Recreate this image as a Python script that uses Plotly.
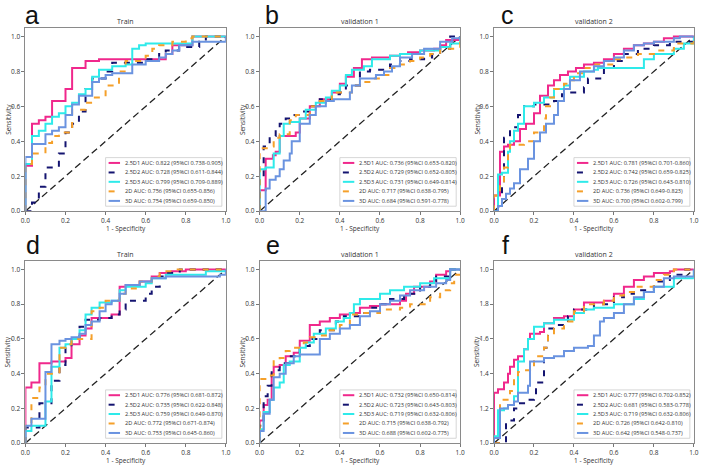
import plotly.graph_objects as go

# ---------------- data ----------------
PANEL_LETTERS = ["a", "b", "c", "d", "e", "f"]
PANEL_TITLES = ["Train", "validation 1", "validation 2", "Train", "validation 1", "validation 2"]
MODELS = ["2.5D1", "2.5D2", "2.5D3", "2D", "3D"]
X_TICKS = [0.0, 0.2, 0.4, 0.6, 0.8, 1.0]
X_TICK_TEXT = ["0.0", "0.2", "0.4", "0.6", "0.8", "1.0"]
Y_TICK_TEXT = ["0.0", "0.2", "0.4", "0.6", "0.8", "1.0"]
Y_TICK_TEXT_F = ["1.0", "1.2", "1.4", "1.6", "1.8", "1.0"]
DIAG = [0.0, 1.0]

AUC_A = ["0.822 (95%CI 0.738-0.905)", "0.728 (95%CI 0.611-0.844)", "0.799 (95%CI 0.709-0.889)", "0.756 (95%CI 0.655-0.856)", "0.754 (95%CI 0.659-0.850)"]
AUC_B = ["0.736 (95%CI 0.653-0.820)", "0.729 (95%CI 0.652-0.805)", "0.731 (95%CI 0.649-0.814)", "0.717 (95%CI 0.638-0.795)", "0.684 (95%CI 0.591-0.778)"]
AUC_C = ["0.781 (95%CI 0.701-0.860)", "0.742 (95%CI 0.659-0.825)", "0.726 (95%CI 0.643-0.810)", "0.736 (95%CI 0.649-0.823)", "0.700 (95%CI 0.602-0.799)"]
AUC_D = ["0.776 (95%CI 0.681-0.872)", "0.735 (95%CI 0.622-0.848)", "0.759 (95%CI 0.649-0.870)", "0.772 (95%CI 0.671-0.874)", "0.753 (95%CI 0.645-0.860)"]
AUC_E = ["0.732 (95%CI 0.650-0.814)", "0.723 (95%CI 0.643-0.803)", "0.719 (95%CI 0.632-0.806)", "0.715 (95%CI 0.638-0.792)", "0.688 (95%CI 0.602-0.775)"]
AUC_F = ["0.777 (95%CI 0.702-0.852)", "0.681 (95%CI 0.583-0.778)", "0.719 (95%CI 0.632-0.806)", "0.726 (95%CI 0.642-0.810)", "0.642 (95%CI 0.548-0.737)"]

# ROC step points (fpr where the curve rises, tpr it rises to)
A1_X = [0, 0, 0.033, 0.067, 0.1, 0.133, 0.2, 0.233, 0.3, 0.367, 0.7, 0.733, 0.833, 1.0]
A1_Y = [0, 0.26, 0.5, 0.52, 0.54, 0.63, 0.70, 0.82, 0.86, 0.87, 0.9, 0.95, 1.0, 1.0]
A2_X = [0, 0.033, 0.067, 0.1, 0.167, 0.2, 0.233, 0.267, 0.3, 0.333, 0.4, 0.433, 0.6, 0.667, 0.7, 0.767, 0.867, 0.9, 1.0]
A2_Y = [0, 0.05, 0.14, 0.25, 0.33, 0.45, 0.50, 0.57, 0.70, 0.76, 0.80, 0.85, 0.87, 0.90, 0.92, 0.94, 0.97, 1.0, 1.0]
A3_X = [0, 0, 0.033, 0.067, 0.1, 0.133, 0.167, 0.2, 0.233, 0.267, 0.3, 0.333, 0.367, 0.433, 0.5, 0.533, 0.567, 0.6, 0.833, 1.0]
A3_Y = [0, 0.27, 0.43, 0.46, 0.50, 0.54, 0.56, 0.60, 0.62, 0.67, 0.70, 0.77, 0.81, 0.83, 0.84, 0.93, 0.95, 0.96, 1.0, 1.0]
A4_X = [0, 0, 0.033, 0.1, 0.133, 0.167, 0.233, 0.3, 0.333, 0.4, 0.467, 0.5, 0.6, 0.633, 0.667, 0.733, 0.8, 0.833, 1.0]
A4_Y = [0, 0.27, 0.33, 0.39, 0.43, 0.45, 0.58, 0.62, 0.65, 0.72, 0.80, 0.86, 0.89, 0.93, 0.95, 0.97, 0.99, 1.0, 1.0]
A5_X = [0, 0, 0.033, 0.1, 0.133, 0.167, 0.2, 0.233, 0.267, 0.333, 0.367, 0.4, 0.433, 0.533, 0.6, 0.667, 0.7, 0.733, 0.767, 0.833, 1.0]
A5_Y = [0, 0.31, 0.385, 0.44, 0.46, 0.48, 0.55, 0.61, 0.66, 0.74, 0.76, 0.78, 0.79, 0.84, 0.86, 0.88, 0.90, 0.92, 0.95, 0.97, 1.0]

B1_X = [0, 0, 0.03, 0.066, 0.08, 0.1, 0.18, 0.2, 0.25, 0.3, 0.36, 0.4, 0.43, 0.47, 0.51, 0.56, 0.65, 0.7, 0.74, 0.8, 0.87, 0.9, 0.93, 1.0]
B1_Y = [0, 0.12, 0.30, 0.32, 0.34, 0.43, 0.45, 0.53, 0.60, 0.64, 0.68, 0.73, 0.77, 0.82, 0.87, 0.88, 0.89, 0.90, 0.91, 0.92, 0.93, 0.95, 0.98, 1.0]
B2_X = [0, 0, 0.02, 0.05, 0.08, 0.1, 0.13, 0.16, 0.2, 0.25, 0.3, 0.36, 0.4, 0.43, 0.5, 0.55, 0.65, 0.7, 0.75, 0.82, 0.86, 0.9, 0.95, 1.0]
B2_Y = [0, 0.2, 0.37, 0.43, 0.48, 0.50, 0.53, 0.55, 0.57, 0.60, 0.64, 0.67, 0.68, 0.72, 0.80, 0.81, 0.84, 0.86, 0.87, 0.88, 0.90, 0.93, 1.0, 1.0]
B3_X = [0, 0, 0.03, 0.07, 0.1, 0.12, 0.15, 0.2, 0.23, 0.28, 0.33, 0.36, 0.4, 0.43, 0.46, 0.52, 0.56, 0.65, 0.7, 0.8, 0.9, 0.95, 1.0]
B3_Y = [0, 0.24, 0.25, 0.33, 0.43, 0.50, 0.51, 0.53, 0.58, 0.62, 0.65, 0.69, 0.72, 0.78, 0.81, 0.83, 0.87, 0.89, 0.90, 0.92, 0.94, 0.96, 1.0]
B4_X = [0, 0, 0.05, 0.07, 0.1, 0.15, 0.18, 0.25, 0.3, 0.36, 0.46, 0.5, 0.56, 0.6, 0.65, 0.7, 0.75, 0.8, 0.85, 0.9, 1.0, 1.0]
B4_Y = [0, 0.36, 0.37, 0.42, 0.44, 0.52, 0.55, 0.60, 0.63, 0.68, 0.72, 0.74, 0.76, 0.78, 0.82, 0.84, 0.86, 0.88, 0.90, 0.93, 0.97, 1.0]
B5_X = [0, 0.03, 0.05, 0.08, 0.1, 0.12, 0.15, 0.16, 0.2, 0.25, 0.28, 0.33, 0.37, 0.45, 0.46, 0.5, 0.58, 0.62, 0.66, 0.7, 0.76, 0.82, 0.9, 0.96, 1.0]
B5_Y = [0, 0.13, 0.18, 0.20, 0.24, 0.29, 0.33, 0.40, 0.50, 0.55, 0.60, 0.63, 0.64, 0.68, 0.72, 0.76, 0.78, 0.80, 0.83, 0.88, 0.90, 0.93, 0.97, 0.99, 1.0]

C1_X = [0, 0, 0.03, 0.05, 0.07, 0.1, 0.13, 0.16, 0.2, 0.23, 0.27, 0.3, 0.33, 0.37, 0.41, 0.45, 0.5, 0.55, 0.6, 0.65, 0.7, 0.75, 0.8, 0.85, 0.9, 1.0]
C1_Y = [0, 0.09, 0.34, 0.37, 0.38, 0.40, 0.47, 0.50, 0.56, 0.66, 0.72, 0.75, 0.78, 0.80, 0.82, 0.84, 0.85, 0.87, 0.90, 0.93, 0.95, 0.96, 0.97, 0.99, 1.0, 1.0]
C2_X = [0, 0.02, 0.04, 0.05, 0.08, 0.12, 0.15, 0.2, 0.3, 0.34, 0.37, 0.45, 0.47, 0.55, 0.6, 0.65, 0.72, 0.8, 0.88, 1.0]
C2_Y = [0, 0.09, 0.15, 0.42, 0.48, 0.55, 0.60, 0.61, 0.63, 0.67, 0.68, 0.71, 0.76, 0.82, 0.86, 0.90, 0.93, 0.95, 0.97, 1.0]
C3_X = [0, 0.02, 0.04, 0.07, 0.08, 0.1, 0.12, 0.15, 0.2, 0.25, 0.3, 0.35, 0.38, 0.45, 0.5, 0.52, 0.72, 0.75, 0.8, 0.9, 0.95, 1.0]
C3_Y = [0, 0.21, 0.22, 0.34, 0.40, 0.46, 0.50, 0.60, 0.62, 0.65, 0.70, 0.72, 0.77, 0.80, 0.81, 0.82, 0.82, 0.87, 0.90, 0.93, 0.96, 1.0]
C4_X = [0, 0, 0.03, 0.05, 0.07, 0.08, 0.15, 0.2, 0.25, 0.26, 0.28, 0.3, 0.35, 0.38, 0.4, 0.45, 0.5, 0.6, 0.65, 0.72, 0.8, 0.9, 1.0]
C4_Y = [0, 0.09, 0.16, 0.25, 0.33, 0.38, 0.40, 0.45, 0.53, 0.60, 0.65, 0.70, 0.73, 0.75, 0.79, 0.82, 0.84, 0.87, 0.88, 0.90, 0.92, 0.96, 1.0]
C5_X = [0, 0.02, 0.04, 0.06, 0.08, 0.1, 0.13, 0.17, 0.2, 0.23, 0.26, 0.3, 0.32, 0.35, 0.38, 0.43, 0.5, 0.55, 0.6, 0.65, 0.7, 0.75, 0.8, 0.9, 0.93, 1.0]
C5_Y = [0, 0.03, 0.07, 0.10, 0.13, 0.16, 0.24, 0.30, 0.40, 0.45, 0.50, 0.55, 0.63, 0.70, 0.75, 0.80, 0.83, 0.86, 0.88, 0.92, 0.95, 0.96, 0.97, 0.99, 1.0, 1.0]

D1_X = [0, 0, 0.03, 0.07, 0.13, 0.2, 0.23, 0.27, 0.3, 0.33, 0.43, 0.47, 0.5, 0.57, 0.63, 0.67, 0.73, 0.8, 1.0]
D1_Y = [0, 0.32, 0.35, 0.46, 0.47, 0.49, 0.57, 0.62, 0.66, 0.72, 0.74, 0.90, 0.91, 0.93, 0.96, 0.98, 0.99, 1.0, 1.0]
D2_X = [0, 0, 0.07, 0.13, 0.17, 0.2, 0.23, 0.27, 0.3, 0.37, 0.43, 0.47, 0.5, 0.6, 0.63, 0.67, 0.7, 0.77, 1.0]
D2_Y = [0, 0.09, 0.23, 0.36, 0.45, 0.55, 0.60, 0.67, 0.71, 0.72, 0.74, 0.77, 0.82, 0.86, 0.90, 0.96, 0.98, 1.0, 1.0]
D3_X = [0, 0, 0.03, 0.1, 0.13, 0.17, 0.2, 0.23, 0.27, 0.3, 0.33, 0.37, 0.43, 0.47, 0.5, 0.6, 0.63, 0.7, 0.9, 1.0]
D3_Y = [0, 0.07, 0.10, 0.24, 0.44, 0.55, 0.57, 0.60, 0.65, 0.74, 0.78, 0.81, 0.82, 0.88, 0.90, 0.92, 0.95, 0.97, 0.99, 1.0]
D4_X = [0, 0, 0.03, 0.07, 0.1, 0.17, 0.2, 0.23, 0.33, 0.37, 0.4, 0.47, 0.5, 0.57, 0.63, 0.67, 0.73, 1.0]
D4_Y = [0, 0.10, 0.26, 0.32, 0.40, 0.55, 0.57, 0.60, 0.76, 0.78, 0.82, 0.86, 0.89, 0.93, 0.96, 0.99, 1.0, 1.0]
D5_X = [0, 0, 0.03, 0.1, 0.13, 0.17, 0.2, 0.23, 0.27, 0.3, 0.33, 0.37, 0.4, 0.43, 0.47, 0.5, 0.57, 0.63, 0.7, 0.97, 1.0]
D5_Y = [0, 0.10, 0.14, 0.41, 0.57, 0.59, 0.60, 0.61, 0.63, 0.68, 0.70, 0.76, 0.80, 0.82, 0.86, 0.91, 0.93, 0.95, 0.96, 0.97, 1.0]

E1_X = [0, 0, 0.02, 0.04, 0.06, 0.07, 0.1, 0.13, 0.17, 0.2, 0.25, 0.3, 0.35, 0.4, 0.45, 0.5, 0.55, 0.6, 0.7, 0.73, 0.77, 0.85, 0.88, 0.93, 0.95, 1.0]
E1_Y = [0, 0.13, 0.22, 0.25, 0.40, 0.44, 0.45, 0.50, 0.52, 0.59, 0.68, 0.70, 0.72, 0.74, 0.75, 0.78, 0.79, 0.80, 0.82, 0.86, 0.90, 0.93, 0.97, 0.99, 1.0, 1.0]
E2_X = [0, 0, 0.02, 0.04, 0.06, 0.1, 0.15, 0.2, 0.25, 0.3, 0.38, 0.42, 0.5, 0.55, 0.6, 0.65, 0.72, 0.8, 0.85, 0.88, 0.95, 1.0]
E2_Y = [0, 0.10, 0.27, 0.33, 0.42, 0.46, 0.50, 0.56, 0.60, 0.65, 0.70, 0.73, 0.75, 0.78, 0.80, 0.83, 0.86, 0.90, 0.93, 0.96, 1.0, 1.0]
E3_X = [0, 0, 0.02, 0.05, 0.07, 0.1, 0.12, 0.15, 0.2, 0.23, 0.27, 0.33, 0.38, 0.42, 0.45, 0.47, 0.5, 0.6, 0.65, 0.72, 0.8, 0.87, 0.95, 1.0]
E3_Y = [0, 0.08, 0.18, 0.25, 0.32, 0.35, 0.45, 0.47, 0.55, 0.58, 0.63, 0.66, 0.70, 0.72, 0.75, 0.80, 0.83, 0.86, 0.88, 0.90, 0.92, 0.95, 1.0, 1.0]
E4_X = [0, 0, 0.05, 0.07, 0.1, 0.13, 0.15, 0.22, 0.25, 0.3, 0.35, 0.4, 0.45, 0.5, 0.6, 0.7, 0.75, 0.85, 0.9, 0.95, 0.97, 1.0]
E4_Y = [0, 0.37, 0.39, 0.48, 0.49, 0.53, 0.55, 0.58, 0.61, 0.62, 0.65, 0.68, 0.74, 0.75, 0.77, 0.78, 0.80, 0.84, 0.88, 0.92, 0.97, 1.0]
E5_X = [0, 0, 0.02, 0.05, 0.07, 0.1, 0.13, 0.17, 0.2, 0.3, 0.35, 0.4, 0.45, 0.5, 0.55, 0.6, 0.65, 0.7, 0.75, 0.82, 0.88, 0.93, 0.95, 1.0]
E5_Y = [0, 0.07, 0.17, 0.25, 0.38, 0.40, 0.46, 0.50, 0.51, 0.60, 0.63, 0.66, 0.68, 0.73, 0.76, 0.80, 0.82, 0.85, 0.88, 0.90, 0.92, 0.94, 1.0, 1.0]

F1_X = [0, 0, 0.02, 0.05, 0.07, 0.08, 0.1, 0.12, 0.15, 0.17, 0.18, 0.23, 0.25, 0.3, 0.35, 0.4, 0.45, 0.55, 0.6, 0.65, 0.7, 0.75, 0.8, 0.88, 0.9, 1.0]
F1_Y = [0, 0.29, 0.31, 0.35, 0.40, 0.44, 0.48, 0.50, 0.54, 0.60, 0.63, 0.64, 0.69, 0.72, 0.73, 0.77, 0.81, 0.82, 0.86, 0.90, 0.94, 0.96, 0.98, 0.99, 1.0, 1.0]
F2_X = [0, 0.06, 0.06, 0.1, 0.13, 0.17, 0.2, 0.21, 0.25, 0.25, 0.27, 0.3, 0.37, 0.4, 0.5, 0.6, 0.65, 0.7, 0.8, 0.88, 0.95, 1.0]
F2_Y = [0, 0.04, 0.13, 0.20, 0.23, 0.25, 0.27, 0.35, 0.45, 0.55, 0.66, 0.68, 0.73, 0.77, 0.80, 0.84, 0.86, 0.88, 0.93, 0.97, 1.0, 1.0]
F3_X = [0, 0, 0.02, 0.05, 0.07, 0.1, 0.12, 0.15, 0.17, 0.2, 0.25, 0.3, 0.4, 0.45, 0.5, 0.6, 0.7, 0.75, 0.8, 0.9, 1.0]
F3_Y = [0, 0.04, 0.19, 0.20, 0.22, 0.27, 0.47, 0.54, 0.60, 0.67, 0.69, 0.71, 0.75, 0.77, 0.78, 0.80, 0.83, 0.87, 0.90, 0.95, 1.0]
F4_X = [0, 0.03, 0.08, 0.1, 0.12, 0.15, 0.2, 0.25, 0.27, 0.3, 0.35, 0.4, 0.45, 0.55, 0.6, 0.65, 0.7, 0.8, 0.85, 0.9, 1.0]
F4_Y = [0, 0.25, 0.30, 0.37, 0.41, 0.42, 0.50, 0.55, 0.62, 0.66, 0.70, 0.76, 0.80, 0.82, 0.85, 0.87, 0.90, 0.94, 0.97, 1.0, 1.0]
F5_X = [0, 0, 0.03, 0.07, 0.1, 0.12, 0.17, 0.18, 0.25, 0.3, 0.35, 0.4, 0.47, 0.5, 0.53, 0.55, 0.6, 0.65, 0.7, 0.75, 0.8, 0.85, 0.9, 1.0]
F5_Y = [0, 0.03, 0.20, 0.22, 0.24, 0.29, 0.33, 0.47, 0.49, 0.50, 0.53, 0.55, 0.56, 0.62, 0.70, 0.72, 0.75, 0.80, 0.84, 0.87, 0.90, 0.95, 0.96, 1.0]

CURVES = [
    [(A1_X, A1_Y), (A2_X, A2_Y), (A3_X, A3_Y), (A4_X, A4_Y), (A5_X, A5_Y)],
    [(B1_X, B1_Y), (B2_X, B2_Y), (B3_X, B3_Y), (B4_X, B4_Y), (B5_X, B5_Y)],
    [(C1_X, C1_Y), (C2_X, C2_Y), (C3_X, C3_Y), (C4_X, C4_Y), (C5_X, C5_Y)],
    [(D1_X, D1_Y), (D2_X, D2_Y), (D3_X, D3_Y), (D4_X, D4_Y), (D5_X, D5_Y)],
    [(E1_X, E1_Y), (E2_X, E2_Y), (E3_X, E3_Y), (E4_X, E4_Y), (E5_X, E5_Y)],
    [(F1_X, F1_Y), (F2_X, F2_Y), (F3_X, F3_Y), (F4_X, F4_Y), (F5_X, F5_Y)],
]
AUCS = [AUC_A, AUC_B, AUC_C, AUC_D, AUC_E, AUC_F]

# ---------------- style ----------------
COLORS = ["#F0288C", "#141470", "#2EEAEA", "#F5A02A", "#6A93E0"]
DASHES = ["solid", "6px,7px", "solid", "6px,7px", "solid"]
LW = 2.0
FONT = "Open Sans, Noto Sans, sans-serif"
TXT = "#333333"

COL_DOM = [(0.0292, 0.3160), (0.3643, 0.6512), (0.6996, 0.9855)]
ROW_DOM = [(0.5478, 0.9406), (0.0510, 0.4416)]

fig = go.Figure()
shapes = []
annotations = []

for i in range(6):
    r, c = divmod(i, 3)
    k = i + 1
    xa = "x" if k == 1 else f"x{k}"
    ya = "y" if k == 1 else f"y{k}"
    xdom = f"{xa} domain"
    ydom = f"{ya} domain"

    fig.add_trace(go.Scatter(x=DIAG, y=DIAG, mode="lines", xaxis=xa, yaxis=ya,
                             line=dict(color="#222222", width=1.3, dash="7px,4px"),
                             showlegend=False, hoverinfo="skip"))
    for m in range(5):
        fx, fy = CURVES[i][m]
        fig.add_trace(go.Scatter(x=fx, y=fy, mode="lines", xaxis=xa, yaxis=ya,
                                 line=dict(color=COLORS[m], width=LW, dash=DASHES[m], shape="hv"),
                                 name=MODELS[m], showlegend=False))

    fig.layout[("xaxis" if k == 1 else f"xaxis{k}")] = dict(
        domain=list(COL_DOM[c]), range=[0, 1], anchor=ya,
        tickvals=X_TICKS, ticktext=X_TICK_TEXT, ticks="outside", ticklen=3,
        tickcolor="#777", tickwidth=0.8, showgrid=False, zeroline=False,
        showline=True, linecolor="#8a8a8a", linewidth=1, mirror=True,
        tickfont=dict(size=6.5, color=TXT, family=FONT), fixedrange=True)
    fig.layout[("yaxis" if k == 1 else f"yaxis{k}")] = dict(
        domain=list(ROW_DOM[r]), range=[0, 1.05], anchor=xa,
        tickvals=X_TICKS, ticktext=(Y_TICK_TEXT_F if i == 5 else Y_TICK_TEXT),
        ticks="outside", ticklen=3, tickcolor="#777", tickwidth=0.8,
        showgrid=False, zeroline=False, showline=True, linecolor="#8a8a8a",
        linewidth=1, mirror=True,
        tickfont=dict(size=6.5, color=TXT, family=FONT), fixedrange=True)

    # title, axis titles
    annotations.append(dict(text=PANEL_TITLES[i], xref=xdom, yref=ydom, x=0.5, y=1.0,
                            xanchor="center", yanchor="bottom", yshift=0, showarrow=False,
                            font=dict(size=7, color=TXT, family=FONT)))
    annotations.append(dict(text="1 - Specificity", xref=xdom, yref=ydom, x=0.5, y=0,
                            xanchor="center", yanchor="middle", yshift=-17.5, showarrow=False,
                            font=dict(size=6.5, color=TXT, family=FONT)))
    annotations.append(dict(text="Sensitivity", xref=xdom, yref=ydom, x=0, y=0.5,
                            xanchor="center", yanchor="middle", xshift=-17, textangle=-90,
                            showarrow=False, font=dict(size=6.5, color=TXT, family=FONT)))
    # panel letter
    lx = [19, 263, 502][c] / 709.0
    if r == 0:
        annotations.append(dict(text=PANEL_LETTERS[i], xref="paper", yref="paper", x=lx, y=1.0,
                                xanchor="left", yanchor="top", showarrow=False, borderpad=0,
                                font=dict(size=25, color="#111", family="Liberation Sans, Arial")))
    else:
        annotations.append(dict(text=PANEL_LETTERS[i], xref="paper", yref="paper", x=lx, y=0.441,
                                xanchor="left", yanchor="bottom", showarrow=False,
                                font=dict(size=25, color="#111", family="Liberation Sans, Arial")))

    # legend box
    shapes.append(dict(type="rect", xref=xdom, yref=ydom, x0=0.40, x1=0.98, y0=0.027, y1=0.292,
                       fillcolor="white", line=dict(color="#cccccc", width=0.8), layer="above"))
    rows = [0.263, 0.211, 0.160, 0.108, 0.056]
    for m in range(5):
        shapes.append(dict(type="line", xref=xdom, yref=ydom, x0=0.415, x1=0.472,
                           y0=rows[m], y1=rows[m],
                           line=dict(color=COLORS[m], width=LW, dash=DASHES[m]), layer="above"))
        annotations.append(dict(text=f"{MODELS[m]} AUC: {AUCS[i][m]}", xref=xdom, yref=ydom,
                                x=0.485, y=rows[m], xanchor="left", yanchor="middle",
                                showarrow=False,
                                font=dict(size=5.6, color=TXT, family=FONT)))

fig.update_layout(width=709, height=471, margin=dict(l=0, r=0, t=0, b=0),
                  paper_bgcolor="white", plot_bgcolor="white",
                  shapes=shapes, annotations=annotations, showlegend=False)

fig.write_html("out.html")
